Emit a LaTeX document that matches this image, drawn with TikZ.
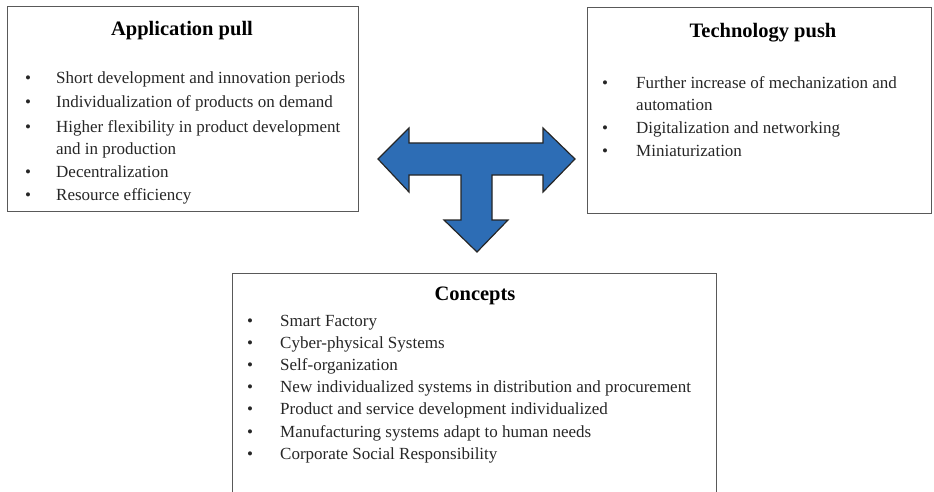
\documentclass[tikz,border=0pt]{standalone}
\usepackage{fontspec}
\setmainfont{Liberation Serif}
\begin{document}
\begin{tikzpicture}[x=1pt,y=-1pt,
  boxline/.style={draw=black!65, line width=1pt},
  ttl/.style={font=\fontsize{20.5}{24}\selectfont\bfseries, inner sep=0pt, anchor=base},
  itm/.style={font=\fontsize{17}{20}\selectfont, anchor=base west, inner sep=0pt, text=black!85},
  bul/.style={font=\fontsize{17}{20}\selectfont, anchor=base, inner sep=0pt, text=black!85},
  bigarrow/.style={fill=arrowblue, draw=black!85, line width=1.2pt, line join=miter}]
\definecolor{arrowblue}{HTML}{2D6DB5}
\useasboundingbox (0,0) rectangle (934,492);
% boxes
\draw[boxline] (7,7) rectangle (358,211);
\draw[boxline] (587,8) rectangle (931,213);
\draw[boxline] (232,495) -- (232,273) -- (716,273) -- (716,495);
% Application pull
\node[ttl] (apt) at (182,36) {Application pull};
\foreach \y/\t [count=\i] in {84/Short development and innovation periods,
  108/Individualization of products on demand,
  132/Higher flexibility in product development,
  177/Decentralization,
  200/Resource efficiency}{
  \node[bul] (apb\i) at (28,\y) {\textbullet};
  \node[itm] (api\i) at (56,\y) {\t};
}
\node[itm] (api6) at (56,154) {and in production};
% Technology push
\node[ttl] (tpt) at (763,38) {Technology push};
\foreach \y/\t [count=\i] in {89/Further increase of mechanization and,
  134/Digitalization and networking,
  157/Miniaturization}{
  \node[bul] (tpb\i) at (605,\y) {\textbullet};
  \node[itm] (tpi\i) at (636,\y) {\t};
}
\node[itm] (tpi4) at (636,111) {automation};
% Concepts
\node[ttl] (cot) at (475,300) {Concepts};
\foreach \y/\t [count=\i] in {326/Smart Factory,
  348/Cyber-physical Systems,
  370/Self-organization,
  392/New individualized systems in distribution and procurement,
  414/Product and service development individualized,
  437/Manufacturing systems adapt to human needs,
  459/Corporate Social Responsibility}{
  \node[bul] (cob\i) at (250,\y) {\textbullet};
  \node[itm] (coi\i) at (280,\y) {\t};
}
% T-shaped arrow
\draw[bigarrow] (378,159) -- (409,128) -- (409,143) -- (543,143) -- (543,128)
  -- (575,159) -- (543,192) -- (543,175) -- (492,175) -- (492,220) -- (508,220)
  -- (477,252) -- (444,220) -- (461,220) -- (461,175) -- (409,175) -- (409,192) -- cycle;
\end{tikzpicture}
\end{document}
